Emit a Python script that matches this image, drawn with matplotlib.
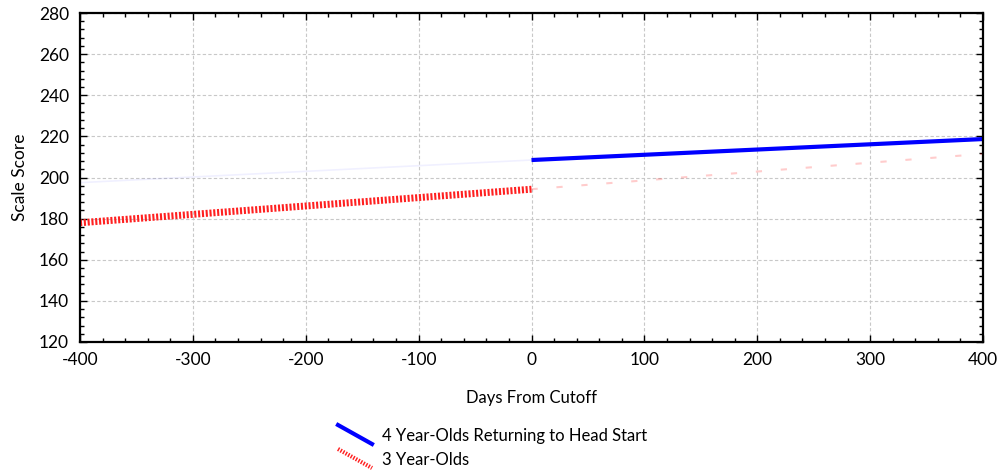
import matplotlib
matplotlib.use("Agg")
import matplotlib.pyplot as plt
from matplotlib.lines import Line2D
from matplotlib.ticker import MultipleLocator

plt.rcParams['font.family'] = ['Lato', 'DejaVu Sans']
plt.rcParams['axes.unicode_minus'] = False

# Data
days_3yo = [-400, 0]
score_3yo = [178.0, 194.3]
days_4yo = [0, 400]
score_4yo = [208.5, 218.7]
# faint extrapolations
days_3yo_ext = [0, 400]
score_3yo_ext = [194.3, 211.5]
days_4yo_ext = [-400, 0]
score_4yo_ext = [197.5, 208.5]

xticks = [-400, -300, -200, -100, 0, 100, 200, 300, 400]
yticks = [120, 140, 160, 180, 200, 220, 240, 260, 280]
legend_labels = ["4 Year-Olds Returning to Head Start", "3 Year-Olds"]
xlabel = "Days From Cutoff"
ylabel = "Scale Score"

fig = plt.figure(figsize=(9.98, 4.74), dpi=100)
W, H = 998, 474
ax = fig.add_axes([80 / W, 1 - 342 / H, (983 - 80) / W, (342 - 13) / H])

ax.plot(days_4yo_ext, score_4yo_ext, color='#0000ff', lw=1.2, alpha=0.06)
ax.plot(days_3yo_ext, score_3yo_ext, color='#ff0000', lw=1.5, alpha=0.2,
        linestyle=(0, (3, 9)))
ax.plot(days_3yo, score_3yo, color='#ff2020', lw=5, linestyle=(0, (0.3, 0.25)),
        solid_capstyle='butt', dash_capstyle='butt')
ax.plot(days_4yo, score_4yo, color='#0000ff', lw=3, solid_capstyle='butt')

ax.set_xlim(-400, 400)
ax.set_ylim(120, 280)
ax.set_xticks(xticks)
ax.set_yticks(yticks)
ax.xaxis.set_minor_locator(MultipleLocator(20))
ax.yaxis.set_minor_locator(MultipleLocator(4))
ax.tick_params(which='both', direction='in', top=True, right=True,
               labeltop=False, labelright=False, labelsize=12.5, color='black')
ax.tick_params(axis='x', which='major', pad=7)
ax.tick_params(axis='y', which='major', pad=8)
ax.tick_params(which='major', length=5, width=1)
ax.tick_params(which='minor', length=3, width=1)
ax.grid(True, which='major', linestyle=(0, (3, 2)), color='#c8c8c8', lw=0.8)
for s in ax.spines.values():
    s.set_linewidth(1.6)
    s.set_color('black')
ax.set_xlabel(xlabel, fontsize=12, labelpad=16)
ax.set_ylabel(ylabel, fontsize=12.5, labelpad=8)

# custom legend below
def px(x, y):
    return x / W, 1 - y / H

colors = ['#0000ff', '#ff2020']
styles = ['-', (0, (0.35, 0.35))]
lws = [3, 3]
ys = [436, 460]
for i, lab in enumerate(legend_labels):
    y = ys[i]
    x0, y0 = px(338, y - 11)
    x1, y1 = px(372, y + 8)
    fig.add_artist(Line2D([x0, x1], [y0, y1], color=colors[i], lw=lws[i],
                          linestyle=styles[i], transform=fig.transFigure))
    tx, ty = px(382, y)
    fig.text(tx, ty, lab, fontsize=12, va='center', ha='left')

fig.savefig('out.png', dpi=100)
